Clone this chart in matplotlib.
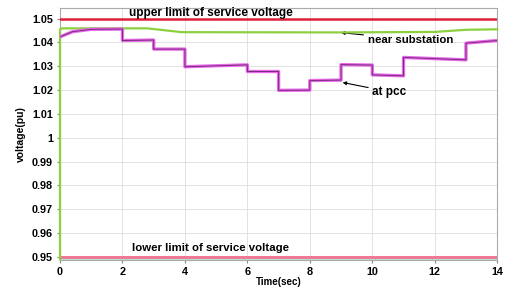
import numpy as np
import matplotlib
matplotlib.use('Agg')
import matplotlib.pyplot as plt

# voltage near substation
sub_t = [0.0, 0.0, 0.05, 2.8, 3.9, 9.0, 12.0, 13.0, 14.0]
sub_v = [0.949, 1.0455, 1.0459, 1.0459, 1.0443, 1.0442, 1.0444, 1.0453, 1.0455]

# voltage at pcc
pcc_t = [0.03, 0.4, 1.0, 2.0, 2.0, 3.0, 3.0, 4.0, 4.0, 6.0, 6.0, 7.0, 7.0, 8.0,
         8.0, 9.0, 9.0, 10.0, 10.0, 11.0, 11.0, 13.0, 13.0, 14.0]
pcc_v = [1.0425, 1.0445, 1.0455, 1.0456, 1.0408, 1.0410, 1.0372, 1.0372,
         1.0298, 1.0306, 1.0278, 1.0278, 1.0199, 1.0200, 1.0240, 1.0242,
         1.0307, 1.0305, 1.0264, 1.0260, 1.0337, 1.0327, 1.0397, 1.0408]

upper_limit = 1.05
lower_limit = 0.95

xticks = [0, 2, 4, 6, 8, 10, 12, 14]
yticks = [0.95, 0.96, 0.97, 0.98, 0.99, 1.0, 1.01, 1.02, 1.03, 1.04, 1.05]
ytick_labels = ['0.95', '0.96', '0.97', '0.98', '0.99', '1', '1.01', '1.02',
                '1.03', '1.04', '1.05']

plt.rcParams['font.family'] = ['Liberation Sans', 'DejaVu Sans']

fig = plt.figure(figsize=(5.06, 2.89), dpi=100)
ax = fig.add_axes([0.1186, 0.1, 0.864, 0.872])

ax.axhline(upper_limit, color='#e0203a', lw=1.8, zorder=3)
ax.axhline(lower_limit, color='#f07896', lw=2.2, zorder=3)
ax.axhline(0.9492, color='#b8e0c0', lw=0.8, zorder=3)

ax.plot(sub_t, sub_v, color='#8cd040', lw=1.6, zorder=4, clip_on=False)
ax.plot(pcc_t, pcc_v, color='#e868e8', lw=2.4, zorder=5)
ax.plot(pcc_t, pcc_v, color='#7a2a80', lw=0.7, zorder=6)

ax.set_xlim(0, 14)
ax.set_ylim(0.9487, 1.0544)
ax.set_xticks(xticks)
ax.set_yticks(yticks)
ax.set_yticklabels(ytick_labels)
ax.tick_params(labelsize=7.8, length=2, color='#888888', pad=3)
for lab in ax.get_xticklabels() + ax.get_yticklabels():
    lab.set_fontweight('bold')
ax.grid(True, color='#dddddd', lw=0.6)
for s in ax.spines.values():
    s.set_color('#aaaaaa')
    s.set_linewidth(0.8)
    s.set_zorder(2)

ax.set_xlabel('Time(sec)', fontsize=7, fontweight='bold', labelpad=0)
ax.set_ylabel('voltage(pu)', fontsize=7.5, fontweight='bold', labelpad=4)

ax.text(2.2, 1.0523, 'upper limit of service voltage', fontsize=8.5,
        fontweight='bold', va='center', ha='left')
ax.text(2.3, 0.9536, 'lower limit of service voltage', fontsize=8.2,
        fontweight='bold', va='center', ha='left')
ax.annotate('near substation', xy=(9.0, 1.0441), xytext=(9.85, 1.0412),
            fontsize=8.2, fontweight='bold', va='center', ha='left',
            arrowprops=dict(arrowstyle='-|>', color='black', lw=0.8,
                            mutation_scale=5, shrinkA=1, shrinkB=0))
ax.annotate('at pcc', xy=(9.05, 1.0232), xytext=(10.0, 1.0193),
            fontsize=8.5, fontweight='bold', va='center', ha='left',
            arrowprops=dict(arrowstyle='-|>', color='black', lw=0.8,
                            mutation_scale=5, shrinkA=1, shrinkB=0))

fig.savefig('out.png', dpi=100)
